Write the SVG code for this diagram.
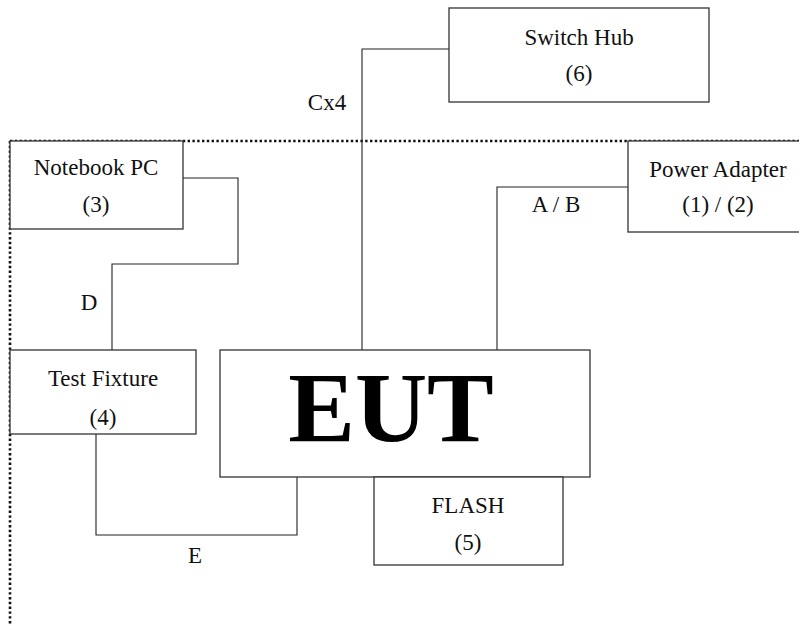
<svg xmlns="http://www.w3.org/2000/svg" width="799" height="625" viewBox="0 0 799 625">
<style>
.box{fill:#fff;stroke:#333;stroke-width:1.3}
.t{font-family:"Liberation Serif","Times New Roman",serif;font-size:23px;fill:#111;text-anchor:middle}
.ln{fill:none;stroke:#222;stroke-width:1.1}
.dot{fill:none;stroke:#111;stroke-width:2.6;stroke-dasharray:2.4 2.4}
</style>
<rect width="799" height="625" fill="#fff"/>
<g id="boundary">
<path class="dot" d="M10 141 H799"/>
<path class="dot" d="M10 141 V625"/>
</g>
<g id="connectors">
<path class="ln" d="M183 178 H238 V264 H112 V350"/>
<path class="ln" d="M449 49 H362 V350"/>
<path class="ln" d="M628 187 H497 V350"/>
<path class="ln" d="M96 434 V535 H297 V477"/>
<text class="t" x="327" y="110">Cx4</text>
<text class="t" x="89" y="310">D</text>
<text class="t" x="556" y="212">A / B</text>
<text class="t" x="195" y="563">E</text>
</g>
<g id="switch-hub">
<rect class="box" x="449" y="8" width="260" height="94"/>
<text class="t" x="579" y="45">Switch Hub</text>
<text class="t" x="579" y="81">(6)</text>
</g>
<g id="notebook-pc">
<rect class="box" x="10" y="141" width="173" height="88"/>
<text class="t" x="96" y="175">Notebook PC</text>
<text class="t" x="96" y="212">(3)</text>
</g>
<g id="power-adapter">
<rect class="box" x="628" y="141" width="180" height="91"/>
<text class="t" x="718" y="177">Power Adapter</text>
<text class="t" x="718" y="212">(1) / (2)</text>
</g>
<g id="test-fixture">
<rect class="box" x="10" y="350" width="186" height="84"/>
<text class="t" x="103" y="386">Test Fixture</text>
<text class="t" x="103" y="425">(4)</text>
</g>
<g id="eut">
<rect class="box" x="220" y="350" width="370" height="127"/>
<text x="391" y="441" text-anchor="middle" font-family="Liberation Serif,'Times New Roman',serif" font-weight="bold" font-size="100" fill="#000">EUT</text>
</g>
<g id="flash">
<rect class="box" x="374" y="477" width="189" height="88"/>
<text class="t" x="468" y="513">FLASH</text>
<text class="t" x="468" y="550">(5)</text>
</g>
</svg>
